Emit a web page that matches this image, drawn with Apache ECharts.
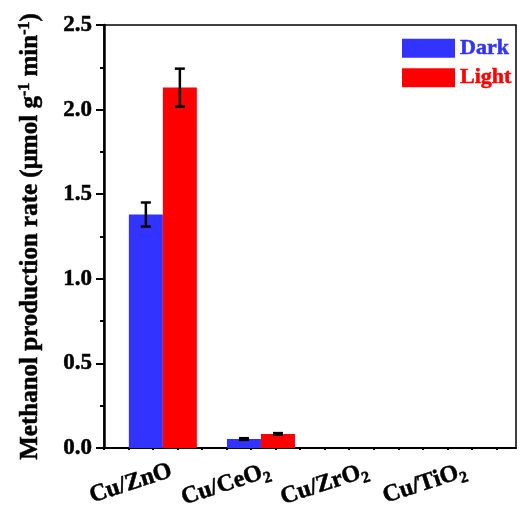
<!DOCTYPE html>
<html>
<head>
<meta charset="utf-8">
<script src="https://cdn.jsdelivr.net/npm/echarts@6/dist/echarts.min.js"></script>
<style>
html,body{margin:0;padding:0;background:#fff;}
#chart{width:520px;height:508px;}
</style>
</head>
<body>
<div id="chart"></div>
<script>
// ---- data ----
const categories = ['Cu/ZnO', 'Cu/CeO2', 'Cu/ZrO2', 'Cu/TiO2'];
const categoryLabels = ['Cu/ZnO', 'Cu/CeO{sub|2}', 'Cu/ZrO{sub|2}', 'Cu/TiO{sub|2}'];
const categoryPositions = [1, 2, 3, 4];
const darkValues = [1.38, 0.053, 0, 0];
const darkErrors = [0.071, 0.005, 0, 0];
const lightValues = [2.13, 0.083, 0, 0];
const lightErrors = [0.112, 0.005, 0, 0];
const yTicks = [0, 0.5, 1.0, 1.5, 2.0, 2.5];

const FONT = '"Liberation Serif", "Times New Roman", serif';
const BLUE = '#3333ff';
const RED = '#ff0000';
const BAR_W = 34;

const chart = echarts.init(document.getElementById('chart'), null, {renderer: 'canvas'});

function pairs(vals) { return vals.map((v, i) => [categoryPositions[i], v]); }
function errData(vals, errs) { return vals.map((v, i) => [categoryPositions[i], v, errs[i]]); }

function errRender(offset) {
  return function (params, api) {
    const x = api.value(0), v = api.value(1), e = api.value(2);
    if (!e) return null;
    const hi = api.coord([x, v + e]);
    const lo = api.coord([x, v - e]);
    const cx = hi[0] + offset;
    const style = {stroke: '#000', lineWidth: 2.5};
    return {
      type: 'group',
      children: [
        {type: 'line', shape: {x1: cx, y1: hi[1], x2: cx, y2: lo[1]}, style},
        {type: 'line', shape: {x1: cx - 5, y1: hi[1], x2: cx + 5, y2: hi[1]}, style},
        {type: 'line', shape: {x1: cx - 5, y1: lo[1], x2: cx + 5, y2: lo[1]}, style}
      ]
    };
  };
}

// tiny ticks along the bottom axis
const bottomTicks = [];
for (let t = 0.4; t <= 4.6 + 1e-9; t += 0.25) bottomTicks.push(+t.toFixed(3));

const boldTxt = {fontFamily: FONT, fontWeight: 'bold', textBorderColor: '#000', textBorderWidth: 0.5};

const option = {
  animation: false,
  backgroundColor: '#fff',
  grid: {left: 104, right: 4, top: 25, bottom: 60, containLabel: false, outerBoundsMode: 'none',
         show: true, borderColor: '#000', borderWidth: 1.5, backgroundColor: 'transparent'},
  legend: {
    orient: 'vertical', left: 397, top: 32, itemWidth: 53, itemHeight: 19, itemGap: 7,
    icon: 'rect', selectedMode: false,
    textStyle: {fontFamily: FONT, fontWeight: 'bold', fontSize: 22},
    data: [
      {name: 'Dark', textStyle: {color: BLUE, textBorderColor: BLUE, textBorderWidth: 0.5}},
      {name: 'Light', textStyle: {color: RED, textBorderColor: RED, textBorderWidth: 0.5}}
    ]
  },
  xAxis: {
    type: 'value', min: 0.4, max: 4.6,
    splitLine: {show: false},
    axisLine: {show: true, onZero: false, lineStyle: {color: '#000', width: 2}},
    axisTick: {show: true, customValues: bottomTicks, length: 2, lineStyle: {color: '#000', width: 2}},
    axisLabel: Object.assign({
      customValues: categoryPositions,
      rotate: 18, margin: 25, color: '#000', fontSize: 24,
      padding: [0, -9, 0, 0],
      formatter: v => categoryLabels[categoryPositions.indexOf(Math.round(v))] || '',
      rich: {sub: Object.assign({fontSize: 16, padding: [14, 0, 0, 0], color: '#000'}, boldTxt)}
    }, boldTxt)
  },
  yAxis: {
    type: 'value', min: 0, max: 2.5, interval: 0.5,
    splitLine: {show: false},
    axisLine: {show: true, lineStyle: {color: '#000', width: 2.5}},
    axisTick: {show: true, length: 8, lineStyle: {color: '#000', width: 2}},
    minorTick: {show: true, splitNumber: 2, length: 4, lineStyle: {color: '#000', width: 2}},
    axisLabel: Object.assign({
      margin: 12, color: '#000', fontSize: 23,
      formatter: v => yTicks.indexOf(v) >= 0 ? v.toFixed(1) : ''
    }, boldTxt),
    name: 'Methanol production rate (μmol g{sup|-1} min{sup|-1})',
    nameLocation: 'middle', nameRotate: 90, nameGap: 59,
    nameTextStyle: Object.assign({
      color: '#000', fontSize: 25,
      rich: {sup: Object.assign({fontSize: 16, padding: [0, 0, 12, 0], color: '#000'}, boldTxt)}
    }, boldTxt)
  },
  series: [
    {name: 'Dark', type: 'bar', data: pairs(darkValues), barWidth: BAR_W, barGap: '0%', itemStyle: {color: BLUE}},
    {name: 'Light', type: 'bar', data: pairs(lightValues), barWidth: BAR_W, barGap: '0%', itemStyle: {color: RED}},
    {type: 'custom', data: errData(darkValues, darkErrors), renderItem: errRender(-BAR_W / 2), z: 5},
    {type: 'custom', data: errData(lightValues, lightErrors), renderItem: errRender(BAR_W / 2), z: 5}
  ]
};
chart.setOption(option);
</script>
</body>
</html>
